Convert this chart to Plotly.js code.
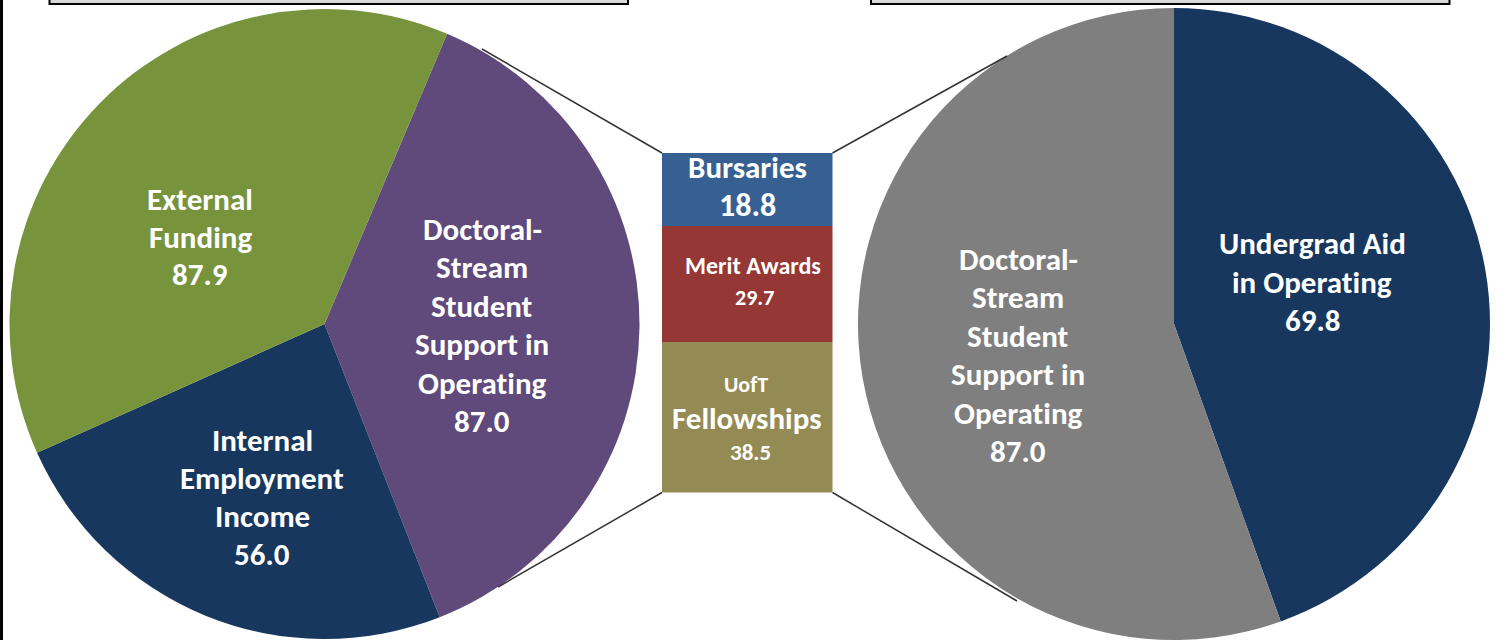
<!DOCTYPE html>
<html>
<head>
<meta charset="utf-8">
<script src="https://cdn.plot.ly/plotly-3.0.1.min.js"></script>
<style>html,body{margin:0;padding:0;background:#fff;}#chart{width:1501px;height:640px;}svg text{font-variant-ligatures:none;font-feature-settings:"liga" 0;}</style>
</head>
<body>
<div id="chart"></div>
<script>
// ---- data ----
var leftLabels = ['Doctoral-<br>Stream<br>Student<br>Support in<br>Operating', 'Internal<br>Employment<br>Income', 'External<br>Funding'];
var leftValues = [87.0, 56.0, 87.9];
var leftColors = ['#604A7B', '#17375E', '#77933C'];

var rightLabels = ['Undergrad Aid<br>in Operating', 'Doctoral-<br>Stream<br>Student<br>Support in<br>Operating'];
var rightValues = [69.8, 87.0];
var rightColors = ['#17375E', '#7F7F7F'];

var barLabels = ['UofT<br>Fellowships', 'Merit Awards', 'Bursaries'];
var barValues = [38.5, 29.7, 18.8];
var barColors = ['#948A54', '#953735', '#376092'];

// ---- geometry helpers (pixel -> paper) ----
var W = 1501, H = 640;
function px(x) { return x / W; }
function py(y) { return 1 - y / H; }

var FONT = 'Carlito, Lato, "Open Sans", sans-serif';
var PIE_FS = 31;

var traces = [];
traces.push({
  type: 'pie', labels: leftLabels, values: leftValues, sort: false, direction: 'clockwise',
  rotation: 22.9, textinfo: 'none', hoverinfo: 'label+value',
  marker: {colors: leftColors, line: {width: 0}},
  domain: {x: [px(9.5), px(639.5)], y: [py(639), py(9)]}
});
traces.push({
  type: 'pie', labels: rightLabels, values: rightValues, sort: false, direction: 'clockwise',
  rotation: 0, textinfo: 'none', hoverinfo: 'label+value',
  marker: {colors: rightColors, line: {width: 0}},
  domain: {x: [px(858), px(1490)], y: [py(640), py(8)]}
});
for (var i = 0; i < barLabels.length; i++) {
  traces.push({
    type: 'bar', x: [0], y: [barValues[i]], name: barLabels[i], width: 1,
    marker: {color: barColors[i], line: {width: 0}}, hoverinfo: 'name+y',
    xaxis: 'x', yaxis: 'y'
  });
}

// ---- label annotations (text from data arrays) ----
var annotations = [];
function addLabel(text, value, cx, y0, dy, sizes) {
  var lines = text.split('<br>').concat([value.toFixed(1)]);
  lines.forEach(function (ln, k) {
    annotations.push({
      xref: 'paper', yref: 'paper', x: px(cx), y: py(y0 + dy * k),
      xanchor: 'center', yanchor: 'middle', showarrow: false, text: ln,
      font: {family: FONT, size: sizes ? sizes[k] : PIE_FS, color: '#FFFFFF', weight: 'bold'}
    });
  });
}
addLabel(leftLabels[2], leftValues[2], 200, 199, 37.5);
addLabel(leftLabels[1], leftValues[1], 262, 440, 38);
addLabel(leftLabels[0], leftValues[0], 482, 229, 38.4);
addLabel(rightLabels[1], rightValues[1], 1018, 259, 38.4);
addLabel(rightLabels[0], rightValues[0], 1312, 243, 38.5);

// bar labels with individual positions/sizes
function addLines(lines, xs, ys, sizes) {
  lines.forEach(function (ln, k) {
    annotations.push({
      xref: 'paper', yref: 'paper', x: px(xs[k]), y: py(ys[k]),
      xanchor: 'center', yanchor: 'middle', showarrow: false, text: ln,
      font: {family: FONT, size: sizes[k], color: '#FFFFFF', weight: 'bold'}
    });
  });
}
addLines([barLabels[2], barValues[2].toFixed(1)], [747, 747], [167, 205], [31, 32]);
addLines([barLabels[1], barValues[1].toFixed(1)], [753, 755], [265, 297], [24, 22]);
var fl = barLabels[0].split('<br>');
addLines([fl[0], fl[1], barValues[0].toFixed(1)], [746, 747, 750], [384, 418, 452], [22, 31, 23]);

// ---- decorative shapes ----
var lineStyle = {color: '#333333', width: 1.5};
var shapes = [
  {type: 'rect', xref: 'paper', yref: 'paper', x0: px(49.5), x1: px(628), y0: py(4), y1: py(-10), fillcolor: '#D9D9D9', line: {color: '#000', width: 2}},
  {type: 'rect', xref: 'paper', yref: 'paper', x0: px(871), x1: px(1449.5), y0: py(4), y1: py(-10), fillcolor: '#D9D9D9', line: {color: '#000', width: 2}},
  {type: 'rect', xref: 'paper', yref: 'paper', x0: 0, x1: px(3), y0: 0, y1: 1, fillcolor: '#000', line: {width: 0}},
  {type: 'line', xref: 'paper', yref: 'paper', x0: px(482), y0: py(49), x1: px(662), y1: py(153), line: lineStyle},
  {type: 'line', xref: 'paper', yref: 'paper', x0: px(498), y0: py(587), x1: px(662), y1: py(492.5), line: lineStyle},
  {type: 'line', xref: 'paper', yref: 'paper', x0: px(832.5), y0: py(153), x1: px(1007), y1: py(56), line: lineStyle},
  {type: 'line', xref: 'paper', yref: 'paper', x0: px(832.5), y0: py(492.5), x1: px(1017), y1: py(601), line: lineStyle}
];

var layout = {
  width: W, height: H, margin: {l: 0, r: 0, t: 0, b: 0, pad: 0},
  paper_bgcolor: '#FFFFFF', plot_bgcolor: 'rgba(0,0,0,0)',
  showlegend: false, barmode: 'stack', bargap: 0,
  xaxis: {domain: [px(661.7), px(832.5)], range: [-0.5, 0.5], visible: false, fixedrange: true},
  yaxis: {domain: [py(492.5), py(153)], range: [0, 87], visible: false, fixedrange: true},
  annotations: annotations, shapes: shapes
};

Plotly.newPlot('chart', traces, layout, {displayModeBar: false, staticPlot: true});
</script>
</body>
</html>
